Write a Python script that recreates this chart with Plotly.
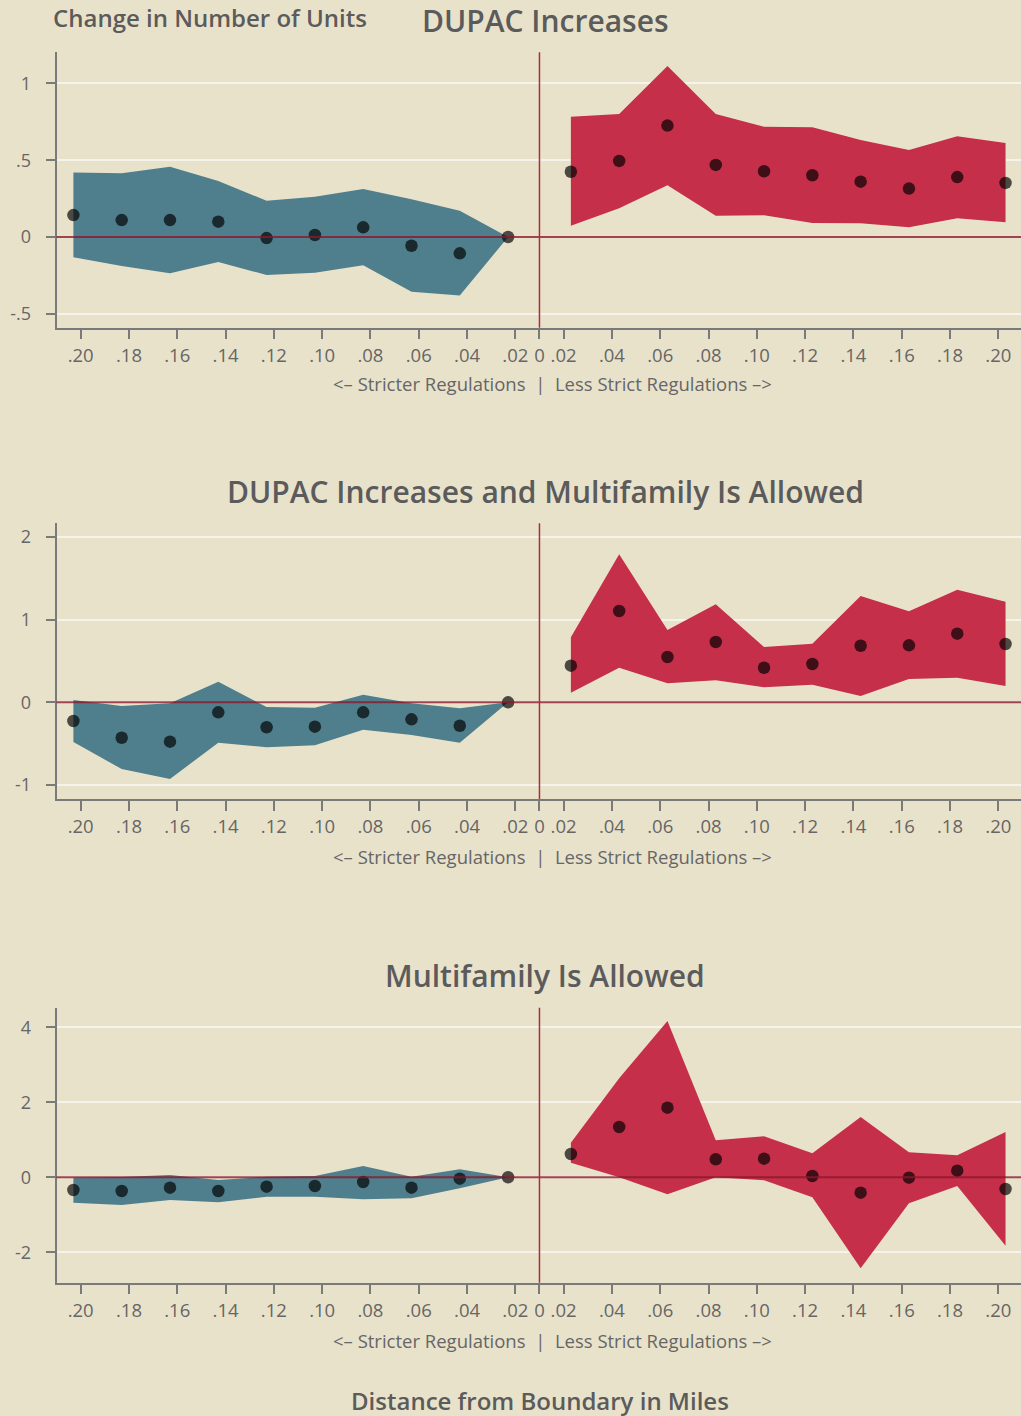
"""
Change in number of units near zoning boundaries, three panels.
"""

import plotly.graph_objects as go

W, H = 1021, 1416

# distance bins (miles) on each side of the boundary, farthest first
dist = [0.20, 0.18, 0.16, 0.14, 0.12, 0.10, 0.08, 0.06, 0.04, 0.02]
tick_text = ['.20', '.18', '.16', '.14', '.12', '.10', '.08', '.06', '.04', '.02']

# left side values run .20 -> .02, right side values run .02 -> .20
# panel 1: DUPAC Increases
p1_left_est = [0.143, 0.11, 0.11, 0.10, -0.007, 0.013, 0.063, -0.057, -0.106, 0.0]
p1_left_hi = [0.42, 0.415, 0.458, 0.365, 0.236, 0.262, 0.312, 0.245, 0.171, 0.0]
p1_left_lo = [-0.132, -0.189, -0.236, -0.163, -0.247, -0.232, -0.184, -0.356, -0.38, 0.0]
p1_right_est = [0.425, 0.495, 0.725, 0.469, 0.428, 0.402, 0.36, 0.315, 0.39, 0.352]
p1_right_hi = [0.783, 0.80, 1.113, 0.80, 0.718, 0.714, 0.632, 0.566, 0.655, 0.612]
p1_right_lo = [0.074, 0.187, 0.337, 0.139, 0.141, 0.091, 0.089, 0.063, 0.122, 0.096]

# panel 2: DUPAC Increases and Multifamily Is Allowed
p2_left_est = [-0.226, -0.428, -0.476, -0.121, -0.302, -0.295, -0.121, -0.206, -0.283, 0.0]
p2_left_hi = [0.028, -0.045, -0.012, 0.249, -0.057, -0.065, 0.092, -0.012, -0.073, 0.0]
p2_left_lo = [-0.48, -0.807, -0.927, -0.488, -0.544, -0.52, -0.331, -0.395, -0.488, 0.0]
p2_right_est = [0.443, 1.104, 0.548, 0.729, 0.418, 0.463, 0.684, 0.689, 0.83, 0.705]
p2_right_hi = [0.786, 1.79, 0.874, 1.185, 0.669, 0.709, 1.285, 1.10, 1.362, 1.217]
p2_right_lo = [0.116, 0.418, 0.23, 0.266, 0.181, 0.213, 0.076, 0.282, 0.297, 0.197]

# panel 3: Multifamily Is Allowed
p3_left_est = [-0.34, -0.365, -0.277, -0.365, -0.25, -0.232, -0.125, -0.277, -0.037, 0.0]
p3_left_hi = [-0.01, 0.008, 0.061, -0.072, 0.016, 0.035, 0.30, 0.016, 0.213, 0.0]
p3_left_lo = [-0.677, -0.739, -0.605, -0.667, -0.517, -0.517, -0.587, -0.56, -0.293, 0.0]
p3_right_est = [0.621, 1.341, 1.856, 0.48, 0.496, 0.035, -0.41, -0.01, 0.176, -0.312]
p3_right_hi = [0.923, 2.64, 4.168, 0.987, 1.093, 0.64, 1.608, 0.667, 0.587, 1.208]
p3_right_lo = [0.39, 0.0, -0.453, 0.0, -0.08, -0.533, -2.427, -0.693, -0.232, -1.824]

panels = [
    dict(title='DUPAC Increases',
         left=(p1_left_est, p1_left_hi, p1_left_lo),
         right=(p1_right_est, p1_right_hi, p1_right_lo),
         yticks=[-0.5, 0, 0.5, 1], ylabels=['-.5', '0', '.5', '1'],
         yrange=[-0.59, 1.202], top=52.3, bottom=327.7, title_y=21, xtitle_y=384),
    dict(title='DUPAC Increases and Multifamily Is Allowed',
         left=(p2_left_est, p2_left_hi, p2_left_lo),
         right=(p2_right_est, p2_right_hi, p2_right_lo),
         yticks=[-1, 0, 1, 2], ylabels=['-1', '0', '1', '2'],
         yrange=[-1.169, 2.164], top=523.3, bottom=799, title_y=492, xtitle_y=856),
    dict(title='Multifamily Is Allowed',
         left=(p3_left_est, p3_left_hi, p3_left_lo),
         right=(p3_right_est, p3_right_hi, p3_right_lo),
         yticks=[-2, 0, 2, 4], ylabels=['-2', '0', '2', '4'],
         yrange=[-2.81, 4.52], top=1007.7, bottom=1282.7, title_y=975, xtitle_y=1340),
]

BG = '#E9E2CB'
TEAL = '#4F7F8C'
RED = '#C52F4A'
TEXT = '#5B5B5B'
TICKTXT = '#666666'
AXIS = '#7A7A7A'
REFLINE = 'rgba(140,22,42,0.8)'
FONT = 'Open Sans'

# bins are centred a little off the tick marks, ticks sit half a bin from 0
TICK_SHIFT = 0.01
POINT_SHIFT = 0.007
x_left = [-(d - POINT_SHIFT) for d in dist]
x_right = [d - POINT_SHIFT for d in reversed(dist)]
tick_vals = [-(d - TICK_SHIFT) for d in dist] + [0] + [d - TICK_SHIFT for d in reversed(dist)]
tick_labels = tick_text + ['0'] + list(reversed(tick_text))

x0_px = 56.5
x_range = [-0.2, 0.1994]

fig = go.Figure()
layout = dict(
    width=W, height=H,
    paper_bgcolor=BG, plot_bgcolor=BG,
    margin=dict(l=0, r=0, t=0, b=0),
    showlegend=False,
    font=dict(family=FONT, color=TEXT),
    shapes=[], annotations=[],
)

for i, p in enumerate(panels):
    n = '' if i == 0 else str(i + 1)
    xa, ya = 'x' + n, 'y' + n

    for xs, (est, hi, lo), col in [(x_left, p['left'], TEAL), (x_right, p['right'], RED)]:
        fig.add_trace(go.Scatter(
            x=xs + xs[::-1], y=hi + lo[::-1],
            fill='toself', fillcolor=col, mode='none',
            hoverinfo='skip', xaxis=xa, yaxis=ya,
        ))
        fig.add_trace(go.Scatter(
            x=xs, y=est, mode='markers',
            marker=dict(color='black', size=12.5, opacity=0.68, line=dict(width=0)),
            xaxis=xa, yaxis=ya,
        ))

    dom_y = [1 - p['bottom'] / H, 1 - p['top'] / H]
    layout['xaxis' + n] = dict(
        domain=[x0_px / W, 1], range=x_range, anchor=ya,
        tickmode='array', tickvals=tick_vals, ticktext=tick_labels,
        ticks='outside', ticklen=10, tickwidth=1.5, tickcolor=AXIS,
        showline=True, linecolor=AXIS, linewidth=1.5,
        showgrid=False, zeroline=False,
        tickfont=dict(size=18.5, color=TICKTXT),
    )
    layout['yaxis' + n] = dict(
        domain=dom_y, range=p['yrange'], anchor=xa,
        tickmode='array', tickvals=p['yticks'], ticktext=p['ylabels'],
        ticks='outside', ticklen=9, tickwidth=1.5, tickcolor=AXIS,
        showline=True, linecolor=AXIS, linewidth=1.5,
        showgrid=True, gridcolor='#F6F3EA', gridwidth=1.5,
        zeroline=False, ticklabelstandoff=11,
        tickfont=dict(size=18, color=TICKTXT),
    )

    # reference lines at 0
    layout['shapes'].append(dict(
        type='line', xref=xa + ' domain', yref=ya, x0=0, x1=1, y0=0, y1=0,
        line=dict(color=REFLINE, width=2), layer='above'))
    layout['shapes'].append(dict(
        type='line', xref=xa, yref=ya + ' domain', x0=0, x1=0, y0=0, y1=1,
        line=dict(color='#A5303F', width=1.5), layer='above'))

    layout['annotations'].append(dict(
        text=p['title'], x=545 / W, y=1 - p['title_y'] / H,
        xref='paper', yref='paper', xanchor='center', yanchor='middle',
        showarrow=False, font=dict(size=30, weight=600, color=TEXT)))
    layout['annotations'].append(dict(
        text='<\u2013 Stricter Regulations\u00a0\u00a0|\u00a0\u00a0Less Strict Regulations \u2013>',
        x=552 / W, y=1 - p['xtitle_y'] / H,
        xref='paper', yref='paper', xanchor='center', yanchor='middle',
        showarrow=False, font=dict(size=18.5, color=TICKTXT)))

layout['annotations'].append(dict(
    text='Change in Number of Units', x=51 / W, y=1 - 17 / H,
    xref='paper', yref='paper', xanchor='left', yanchor='middle',
    showarrow=False, font=dict(size=24, weight=600, color=TEXT)))
layout['annotations'].append(dict(
    text='Distance from Boundary in Miles', x=540 / W, y=1 - 1400 / H,
    xref='paper', yref='paper', xanchor='center', yanchor='middle',
    showarrow=False, font=dict(size=24, weight=600, color=TEXT)))

fig.update_layout(**layout)
fig.write_html("out.html", config={'displayModeBar': False},
               post_script="document.body.style.margin='0';")
